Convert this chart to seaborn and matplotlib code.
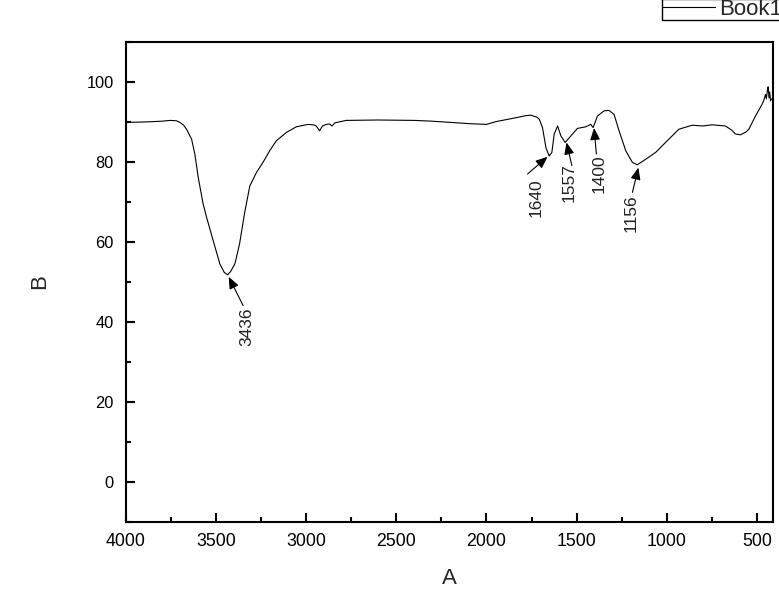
import matplotlib
matplotlib.use("Agg")
import matplotlib.pyplot as plt
import seaborn as sns
from matplotlib.ticker import MultipleLocator

# IR spectrum (wavenumber, transmittance)
wavenumber = [4000, 3900, 3800, 3756, 3720, 3701, 3680, 3664, 3636, 3618,
              3599, 3572, 3553, 3516, 3479, 3455, 3436, 3420, 3396, 3370,
              3341, 3313, 3276, 3240, 3203, 3166, 3110, 3055, 2990, 2960,
              2944, 2926, 2910, 2889, 2870, 2857, 2840, 2778, 2600, 2400,
              2300, 2200, 2100, 2000, 1947, 1855, 1780, 1753, 1720, 1707,
              1689, 1670, 1652, 1637, 1624, 1605, 1587, 1563, 1532, 1495,
              1449, 1421, 1408, 1384, 1347, 1320, 1292, 1264, 1227, 1190,
              1163, 1116, 1061, 1006, 932, 858, 800, 748, 674, 640,
              618, 590, 560, 544, 507, 471, 460, 452, 447, 440,
              437, 432, 428, 424, 418]
transmittance = [89.9, 90.0, 90.2, 90.4, 90.3, 89.9, 89.2, 88.2, 85.7, 82.0,
                 76.1, 69.5, 66.2, 60.3, 54.5, 52.4, 51.8, 52.6, 54.5, 59.5,
                 67.5, 74.0, 77.4, 79.9, 82.8, 85.3, 87.4, 88.8, 89.4, 89.3,
                 89.0, 87.8, 89.0, 89.4, 89.5, 89.0, 89.8, 90.4, 90.5, 90.4,
                 90.2, 89.9, 89.6, 89.4, 90.1, 90.9, 91.6, 91.7, 91.2, 90.7,
                 88.6, 83.6, 81.5, 82.4, 87.0, 89.0, 86.5, 84.9, 86.5, 88.4,
                 88.8, 89.4, 88.6, 91.5, 92.8, 92.9, 91.9, 87.8, 82.8, 79.9,
                 79.3, 80.7, 82.4, 84.9, 88.2, 89.2, 89.0, 89.3, 89.0, 88.0,
                 87.0, 86.8, 87.5, 88.2, 91.5, 94.4, 95.5, 96.9, 95.8, 98.2,
                 98.8, 96.0, 97.5, 95.3, 95.8]

# peak labels: label, arrow tip, arrow tail, text centre (data coords)
peak_labels = ["3436", "1640", "1557", "1400", "1156"]
peak_tip = [(3430, 51.3), (1661, 81.3), (1556, 84.9), (1403, 88.5), (1157, 78.6)]
peak_tail = [(3350, 44.1), (1772, 77.0), (1526, 79.1), (1390, 82.0), (1190, 72.4)]
peak_text = [(3330, 38.7), (1726, 71.1), (1541, 74.9), (1375, 77.0), (1199, 67.1)]

sns.set_style("ticks")
plt.rcParams["font.family"] = ["Liberation Sans", "DejaVu Sans"]

fig = plt.figure(figsize=(7.79, 5.95), dpi=100)
ax = fig.add_axes([126 / 779, 73 / 595, 647 / 779, 480 / 595])

sns.lineplot(x=wavenumber, y=transmittance, color="black", lw=0.8,
             label="Book1", ax=ax)

ax.set_xlim(4000, 410)
ax.set_ylim(-10, 110)
ax.xaxis.set_major_locator(MultipleLocator(500))
ax.xaxis.set_minor_locator(MultipleLocator(250))
ax.yaxis.set_major_locator(MultipleLocator(20))
ax.yaxis.set_minor_locator(MultipleLocator(10))
ax.tick_params(which="both", direction="in", width=1.5, colors="black",
               top=False, right=False)
ax.tick_params(which="major", length=6.5)
ax.tick_params(which="minor", length=3.8)
ax.tick_params(axis="x", labelsize=12.8, pad=8)
ax.tick_params(axis="y", labelsize=11.8, pad=9)
for sp in ax.spines.values():
    sp.set_linewidth(1.5)
    sp.set_color("black")

ax.set_xlabel("A", fontsize=16, labelpad=13)
ax.set_ylabel("B", fontsize=16, labelpad=26)

for lab, tip, tail, txt in zip(peak_labels, peak_tip, peak_tail, peak_text):
    ax.annotate("", xy=tip, xytext=tail,
                arrowprops=dict(arrowstyle="-|>,head_length=0.6,head_width=0.25",
                                color="black", lw=0.8, mutation_scale=12,
                                shrinkA=0, shrinkB=0))
    ax.text(txt[0], txt[1], lab, rotation=90, ha="center", va="center",
            fontsize=12.5, color="#222222")

leg = ax.legend(loc="lower left", bbox_to_anchor=(662 / 779, 1 - 20 / 595),
                bbox_transform=fig.transFigure, borderaxespad=0,
                fontsize=16, borderpad=0.0, handlelength=2.4,
                handletextpad=0.15, fancybox=False, framealpha=1,
                edgecolor="black")
leg.get_frame().set_linewidth(1.0)

fig.savefig("out.png", dpi=100)
